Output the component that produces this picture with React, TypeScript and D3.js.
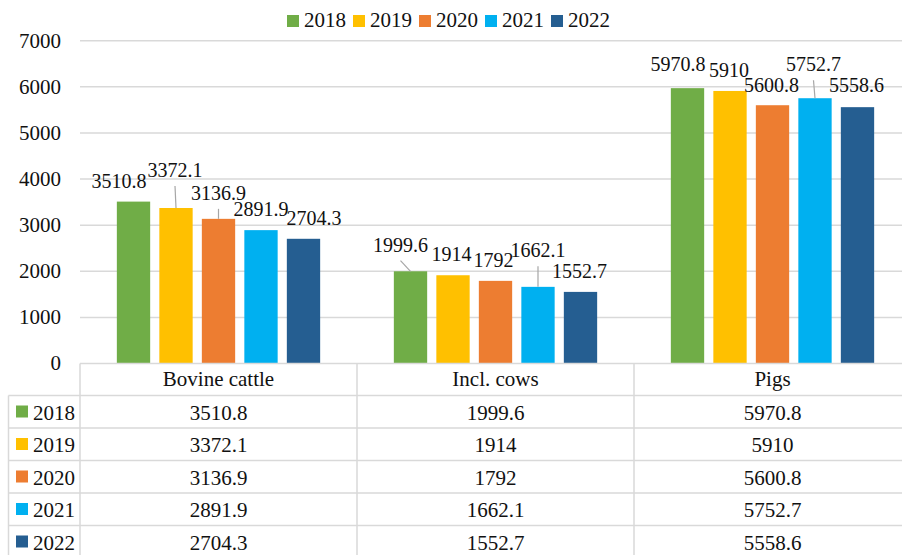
import React from 'react';
import * as d3 from 'd3';

// chart data
const categories = ['Bovine cattle', 'Incl. cows', 'Pigs'];
const years = ['2018', '2019', '2020', '2021', '2022'];
const v2018 = [3510.8, 1999.6, 5970.8];
const v2019 = [3372.1, 1914, 5910];
const v2020 = [3136.9, 1792, 5600.8];
const v2021 = [2891.9, 1662.1, 5752.7];
const v2022 = [2704.3, 1552.7, 5558.6];
const series = [v2018, v2019, v2020, v2021, v2022];
const yTicks = [0, 1000, 2000, 3000, 4000, 5000, 6000, 7000];

const colors = ['#70AD47', '#FFC000', '#ED7D31', '#00B0F0', '#255E91'];

// label nudges (Excel style manual placement): [dx, dy from bar top, leader line]
const labelNudge: [number, number, boolean][][] = [
    [[-14.5, -13.6, false], [-1, -31, true], [0, -19, true], [0, -14, false], [10.5, -14, false]],
    [[-10, -19.6, true], [-1.5, -14.5, false], [-2, -14.2, false], [0, -29.6, true], [-1, -13.6, false]],
    [[-9.5, -17, false], [-1, -14, false], [-1, -13, false], [-1.5, -27, true], [-1, -15, false]],
];

const W = 902;
const H = 555;
const FONT = "'Liberation Serif', 'DejaVu Serif', serif";
const GRID = '#d9d9d9';

const App = () => {
    const plotLeft = 80;
    const plotRight = 911;
    const y = d3.scaleLinear().domain([0, 7000]).range([363.5, 40.7]);
    const x0 = d3.scaleBand().domain(categories).range([plotLeft, plotRight]).padding(0);
    const x1 = d3.scaleBand()
        .domain(years)
        .range([0, x0.bandwidth()])
        .paddingInner(0.216)
        .paddingOuter(0.867);

    const rowEdges = [363.5, 395.5, 428, 460.5, 493, 525.5, 558];

    return (
        <svg width={W} height={H} style={{ position: 'absolute', left: 0, top: 0 }}>
            <rect width={W} height={H} fill="#fff" />
            <g fontFamily={FONT} fontSize={21} fill="#111">

                {/* legend */}
                <g>
                    {years.map((yr, i) => (
                        <g key={yr} transform={`translate(${287 + i * 66},15)`}>
                            <rect width={12} height={12} fill={colors[i]} />
                            <text x={17} y={11.5}>{yr}</text>
                        </g>
                    ))}
                </g>

                {/* grid + y axis */}
                <g>
                    {yTicks.map(t => (
                        <g key={t}>
                            {t !== 0 && <line x1={plotLeft} x2={W} y1={y(t)} y2={y(t)} stroke={GRID} strokeWidth={1.5} />}
                            <text x={61} y={y(t) + 6.8} textAnchor="end">{t}</text>
                        </g>
                    ))}
                </g>

                {/* bars */}
                <g>
                    {categories.map((c, ci) => (
                        <g key={c} transform={`translate(${x0(c)},0)`}>
                            {years.map((yr, si) => (
                                <rect key={yr}
                                    x={x1(yr)}
                                    y={y(series[si][ci])}
                                    width={x1.bandwidth()}
                                    height={y(0) - y(series[si][ci])}
                                    fill={colors[si]} />
                            ))}
                        </g>
                    ))}
                </g>

                {/* data labels */}
                <g fontSize={20}>
                    {categories.map((c, ci) => years.map((yr, si) => {
                        const v = series[si][ci];
                        const cx = (x0(c) as number) + (x1(yr) as number) + x1.bandwidth() / 2;
                        const top = y(v);
                        const [dx, dy, leader] = labelNudge[ci][si];
                        const lx = cx + dx;
                        const ly = top + dy;
                        return (
                            <g key={c + yr}>
                                {leader && <line x1={lx} y1={ly + 9} x2={cx} y2={top}
                                    stroke="#a6a6a6" strokeWidth={1.2} />}
                                <text x={lx} y={ly} textAnchor="middle">{v}</text>
                            </g>
                        );
                    }))}
                </g>

                {/* data table */}
                <g>
                    <line x1={plotLeft} x2={W} y1={rowEdges[0]} y2={rowEdges[0]} stroke={GRID} strokeWidth={1.5} />
                    {rowEdges.slice(1).map((r, i) => (
                        <line key={i} x1={8.5} x2={W} y1={r} y2={r} stroke={GRID} strokeWidth={1.5} />
                    ))}
                    <line x1={8.5} x2={8.5} y1={rowEdges[1]} y2={H} stroke={GRID} strokeWidth={1.5} />
                    {categories.map(c => x0(c) as number).map((xx, i) => (
                        <line key={i} x1={xx} x2={xx} y1={rowEdges[0]} y2={H} stroke={GRID} strokeWidth={1.5} />
                    ))}
                    {categories.map(c => (
                        <text key={c} x={(x0(c) as number) + x0.bandwidth() / 2} y={rowEdges[0] + 22.5}
                            textAnchor="middle">{c}</text>
                    ))}
                    {years.map((yr, si) => {
                        const top = rowEdges[si + 1];
                        return (
                            <g key={yr}>
                                <rect x={16} y={top + 10} width={12} height={12} fill={colors[si]} />
                                <text x={33} y={top + 24}>{yr}</text>
                                {categories.map((c, ci) => (
                                    <text key={c} x={(x0(c) as number) + x0.bandwidth() / 2} y={top + 24}
                                        textAnchor="middle">{series[si][ci]}</text>
                                ))}
                            </g>
                        );
                    })}
                </g>
            </g>
        </svg>
    );
};

export default App;
